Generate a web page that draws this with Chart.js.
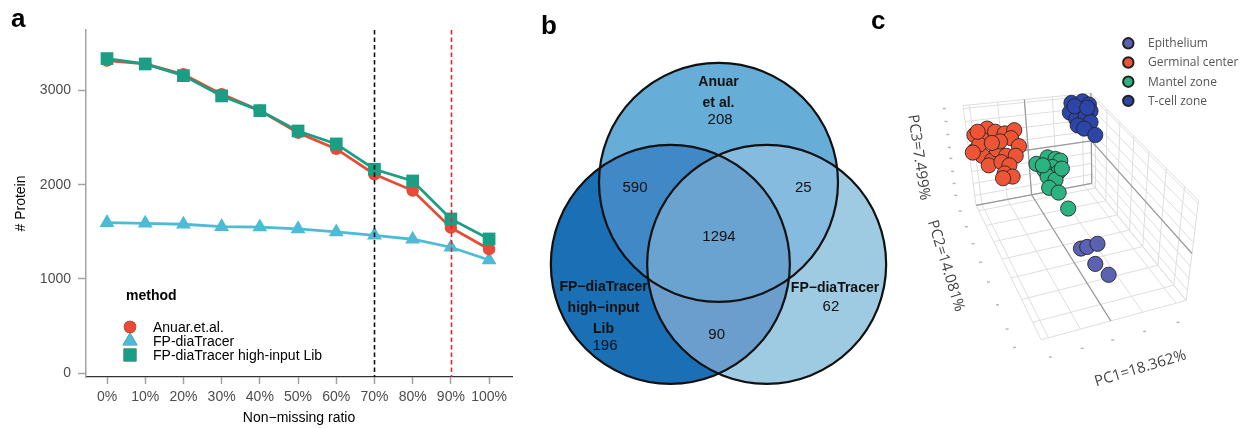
<!DOCTYPE html>
<html><head><meta charset="utf-8">
<script src="https://cdn.jsdelivr.net/npm/chart.js@4.4.1/dist/chart.umd.min.js"></script>
<style>
html,body{margin:0;padding:0;background:#fff;}
body{width:1252px;height:429px;overflow:hidden;position:relative;font-family:"Liberation Sans",Arial,sans-serif;}
.panel{position:absolute;top:0;}
.plab{position:absolute;font-weight:bold;font-size:26px;line-height:26px;color:#000;font-family:"Liberation Sans",Arial,sans-serif;}
canvas{display:block;}
</style></head><body>
<div class="panel" style="left:0;width:530px;height:429px"><canvas id="ca" width="530" height="429"></canvas></div>
<div class="panel" style="left:540px;width:360px;height:429px"><canvas id="cb" width="360" height="429"></canvas></div>
<div class="panel" style="left:880px;width:372px;height:429px"><canvas id="cc" width="372" height="429"></canvas></div>
<div class="plab" style="left:11px;top:5px">a</div>
<div class="plab" style="left:541px;top:12px">b</div>
<div class="plab" style="left:871px;top:7px">c</div>
<script>
// ---------------- Panel a data ----------------
const ratioLabels = ['0%','10%','20%','30%','40%','50%','60%','70%','80%','90%','100%'];
const methodNames = ['Anuar.et.al.','FP-diaTracer','FP-diaTracer high-input Lib'];
const anuarCounts = [3315,3280,3170,2960,2785,2551,2379,2110,1937,1544,1315];
const diaTracerCounts = [1597,1590,1580,1555,1550,1530,1498,1463,1421,1336,1201];
const highInputCounts = [3337,3280,3156,2941,2785,2569,2432,2163,2039,1636,1424];
const cutoffRatios = ['70%','90%'];
const yTickValues = [0,1000,2000,3000];

// ---------------- Panel b data ----------------
const vennSetNames = [['Anuar','et al.'], ['FP\u2212diaTracer','high\u2212input','Lib'], ['FP\u2212diaTracer']];
const vennOnlyCounts = [208, 196, 62];          // top, left, right
const vennPairCounts = [590, 25, 90];           // top&left, top&right, left&right
const vennAllCount = 1294;

// ---------------- Panel c data (projected PCA coordinates) ----------------
const pcaGroups = ['Epithelium','Germinal center','Mantel zone','T-cell zone'];
const pcaAxisTitles = ['PC1=18.362%','PC2=14.081%','PC3=7.499%'];
const epitheliumX = [201.7,208.3,219,216.7,230.7];
const epitheliumY = [250,248.3,245,266,277.3];
const germinalX = [103.3,90,98.3,111.7,121.7,131.7,128.3,136.7,90,98.3,108.3,113.3,123.3,133.3,105,118.3,126.7,121.7,130,120,95,116.7,108.3,93.3,88.3];
const germinalY = [125,131.7,136.7,128.3,130,126.7,135,143.3,148.3,153.3,158.3,146.7,153.3,153.3,163.3,160,163.3,171.7,175,176.7,141.7,138.3,140,128.3,150];
const mantelX = [155,166.7,175,180,171.7,163.3,178.3,166.7,175,168.3,178.3,188.3,161.7,181.7];
const mantelY = [161.7,155,156.7,158.3,165,168.3,170,175,178.3,186.7,191.7,208.3,163.3,166.7];
const tcellX = [191.7,203.3,210,190,200,211.7,196.7,206.7,211.7,198.3,205,216.7,195,208.3];
const tcellY = [98.3,96.7,100,108.3,106.7,106.7,115,111.7,118.3,121.7,125,131.7,101.7,103.3];

const FAM = '"Liberation Sans", Arial, sans-serif';
Chart.defaults.font.family = FAM;
Chart.defaults.animation = false;

// ================= Panel a =================
const methodColors = ['#E64B35','#4DBBD5','#1B9E84'];
const methodStyles = ['circle','triangle','rect'];
const methodRadius = [6.2, 8.6, 9];
const methodOrder = [1, 2, 0];
function mkSeries(k, vals){
  return {
    label: methodNames[k],
    data: vals.map((v,i)=>({x:i, y:v})),
    borderColor: methodColors[k], backgroundColor: methodColors[k],
    borderWidth: 2.8, pointStyle: methodStyles[k], pointRadius: methodRadius[k],
    pointHoverRadius: methodRadius[k], pointBorderWidth: 0, tension: 0, order: methodOrder[k]
  };
}
const cutoffColors = ['#111111','#E8242B'];
const cutoffPlugin = {
  id:'cutoffs',
  afterDatasetsDraw(chart){
    const {ctx, chartArea, scales:{x}} = chart;
    cutoffRatios.forEach((lab,k)=>{
      const px = Math.round(x.getPixelForValue(ratioLabels.indexOf(lab))) + 0.5;
      ctx.save(); ctx.setLineDash([4.5,3]); ctx.strokeStyle = cutoffColors[k]; ctx.lineWidth = 1.6;
      ctx.beginPath(); ctx.moveTo(px, chartArea.top); ctx.lineTo(px, chartArea.bottom); ctx.stroke(); ctx.restore();
    });
  }
};
const methodLegend = {
  id:'methodLegend',
  afterDraw(chart){
    const ctx = chart.ctx; ctx.save();
    ctx.textBaseline = 'middle'; ctx.fillStyle = '#000';
    ctx.font = 'bold 14px ' + FAM;
    ctx.fillText('method', 126, 296);
    ctx.font = '14px ' + FAM;
    methodNames.forEach((nm,k)=>{
      const yy = 327 + 14*k;
      const ds = chart.data.datasets[k];
      Chart.helpers.drawPoint(ctx, {pointStyle: ds.pointStyle, radius: ds.pointRadius, borderWidth: 0, rotation: 0}, 130, yy);
      ctx.fillStyle = ds.backgroundColor; ctx.fill();
      ctx.fillStyle = '#000';
      ctx.fillText(nm, 153, yy + 1);
    });
    ctx.restore();
  }
};
new Chart(document.getElementById('ca'), {
  type: 'line',
  data: { datasets: [mkSeries(0, anuarCounts), mkSeries(1, diaTracerCounts), mkSeries(2, highInputCounts)] },
  options: {
    responsive: false, animation: false,
    layout: { padding: { left: 0, top: 30, right: 18, bottom: 0 } },
    plugins: { legend: { display: false }, tooltip: { enabled: false } },
    scales: {
      x: {
        type: 'linear', min: -0.55, max: 10.6,
        afterFit(s){ s.height = 52; },
        afterBuildTicks(s){ s.ticks = ratioLabels.map((_,i)=>({value:i})); },
        ticks: { autoSkip: false, maxRotation: 0, minRotation: 0,
                 color: '#4d4d4d', font: { size: 14 }, padding: 5,
                 callback: v => (ratioLabels[v] !== undefined ? ratioLabels[v] : '') },
        grid: { drawOnChartArea: false, tickLength: 7, tickColor: '#a3a3a3', tickWidth: 1.5 },
        border: { color: '#333', width: 1.3 },
        title: { display: true, text: 'Non\u2212missing ratio', color: '#000', font: { size: 14 }, padding: { top: 0, bottom: 2 } }
      },
      y: {
        type: 'linear', min: -40, max: 3640,
        afterFit(s){ s.width = 86; },
        afterBuildTicks(s){ s.ticks = yTickValues.map(v=>({value:v})); },
        ticks: { color: '#4d4d4d', font: { size: 14 }, padding: 7, callback: v => String(v) },
        grid: { drawOnChartArea: false, tickLength: 8, tickColor: '#a3a3a3', tickWidth: 1.5 },
        border: { color: '#a3a3a3', width: 1.5 },
        title: { display: true, text: '# Protein', color: '#000', font: { size: 14 }, padding: { top: 13, bottom: 0 } }
      }
    }
  },
  plugins: [cutoffPlugin, methodLegend]
});

// ================= Panel b (Venn) =================
// layout in circle-radius units
const vennCircles = [ {cx: 0.0, cy: 0.686}, {cx: -0.403, cy: 0}, {cx: 0.403, cy: 0} ];
const vennOnlyColors = ['#66AED8','#1A6FB5','#9ECBE2'];
const vennPairIdx = [[0,1],[0,2],[1,2]];
const vennPairColors = ['#4189C6','#85BBDE','#6B9ECD'];
const vennAllColor = '#6AA2D0';
const vennNameAnchors = [ {x:0.0, y:1.523}, {x:-0.962, y:-0.19}, {x:0.975, y:-0.198} ];
const vennOnlyAnchors = [ {x:0.013, y:1.205}, {x:-0.95, y:-0.683}, {x:0.941, y:-0.355} ];
const vennPairAnchors = [ {x:-0.699, y:0.641}, {x:0.71, y:0.641}, {x:-0.015, y:-0.592} ];
const vennAllAnchor = {x:0.004, y:0.226};
const vennPlugin = {
  id:'venn',
  afterDraw(chart){
    const {ctx, scales:{x, y}} = chart;
    const C = vennCircles.map(c=>({px: x.getPixelForValue(c.cx), py: y.getPixelForValue(c.cy),
      pr: x.getPixelForValue(c.cx + 1) - x.getPixelForValue(c.cx)}));
    const path = c => { ctx.beginPath(); ctx.arc(c.px, c.py, c.pr, 0, Math.PI*2); };
    C.forEach((c,i)=>{ ctx.save(); path(c); ctx.fillStyle = vennOnlyColors[i]; ctx.fill(); ctx.restore(); });
    vennPairIdx.forEach((p,k)=>{ ctx.save(); path(C[p[0]]); ctx.clip(); path(C[p[1]]); ctx.clip();
      ctx.fillStyle = vennPairColors[k]; ctx.fillRect(0,0,chart.width,chart.height); ctx.restore(); });
    ctx.save(); C.forEach(c=>{ path(c); ctx.clip(); }); ctx.fillStyle = vennAllColor; ctx.fillRect(0,0,chart.width,chart.height); ctx.restore();
    ctx.save(); ctx.strokeStyle = '#111'; ctx.lineWidth = 2.2; C.forEach(c=>{ path(c); ctx.stroke(); }); ctx.restore();
    ctx.save(); ctx.textAlign = 'center'; ctx.textBaseline = 'middle'; ctx.fillStyle = '#111';
    const nameGap = 21;
    ctx.font = 'bold 14px ' + FAM;
    vennSetNames.forEach((lines,i)=>{
      const ax = x.getPixelForValue(vennNameAnchors[i].x), ay = y.getPixelForValue(vennNameAnchors[i].y);
      lines.forEach((ln,j)=> ctx.fillText(ln, ax, ay + j*nameGap));
    });
    ctx.font = '15px ' + FAM;
    vennOnlyCounts.forEach((n,i)=> ctx.fillText(String(n), x.getPixelForValue(vennOnlyAnchors[i].x), y.getPixelForValue(vennOnlyAnchors[i].y)));
    vennPairCounts.forEach((n,i)=> ctx.fillText(String(n), x.getPixelForValue(vennPairAnchors[i].x), y.getPixelForValue(vennPairAnchors[i].y)));
    ctx.fillText(String(vennAllCount), x.getPixelForValue(vennAllAnchor.x), y.getPixelForValue(vennAllAnchor.y));
    ctx.restore();
  }
};
new Chart(document.getElementById('cb'), {
  type: 'scatter',
  data: { datasets: [{ data: [] }] },
  options: {
    responsive: false, animation: false, layout: { padding: 0 },
    plugins: { legend: { display: false }, tooltip: { enabled: false } },
    scales: {
      x: { type: 'linear', min: -178.5/119.5, max: 181.5/119.5, display: false },
      y: { type: 'linear', min: -164.7/119.5, max: 264.3/119.5, display: false }
    }
  },
  plugins: [vennPlugin]
});

// ================= Panel c (3D PCA, projected) =================
const groupColors = ['#5B62B2','#EE5536','#2DB381','#2C45A8'];
const faceBack  = [[91.7,205],[213,182],[212,88],[78,101]];   // (u,w): 00,10,11,01
const faceFloor = [[91.7,205],[213,182],[312,304],[160,345]]; // (u,v)
const faceRight = [[213,182],[312,304],[325,200],[212,88]];   // (v,w)
const uGrid = [0.05,0.27,0.48,0.70,0.93], uZero = 0.48;
const vGrid = [0.04,0.15,0.27,0.40,0.54,0.70,0.87], vZero = 0.0;
const wGrid = [0.10,0.22,0.34,0.47,0.58,0.71,0.84,0.97], wZero = 0.47;
function bil(f, s, t){
  const a=f[0], b=f[1], c=f[2], d=f[3];
  return [ (1-s)*(1-t)*a[0] + s*(1-t)*b[0] + s*t*c[0] + (1-s)*t*d[0],
           (1-s)*(1-t)*a[1] + s*(1-t)*b[1] + s*t*c[1] + (1-s)*t*d[1] ];
}
const wirePlugin = {
  id:'wire',
  beforeDatasetsDraw(chart){
    const {ctx, scales:{x, y}} = chart;
    const P = p => [x.getPixelForValue(p[0]), y.getPixelForValue(p[1])];
    const seg = (p, q, col, lw) => { const a=P(p), b=P(q); ctx.strokeStyle=col; ctx.lineWidth=lw; ctx.beginPath(); ctx.moveTo(a[0],a[1]); ctx.lineTo(b[0],b[1]); ctx.stroke(); };
    const light = '#dedede', dark = '#9a9a9a';
    ctx.save();
    const drawFace = (f, sGrid, tGrid) => {
      sGrid.forEach(s=> seg(bil(f,s,0), bil(f,s,1), light, 1));
      tGrid.forEach(t=> seg(bil(f,0,t), bil(f,1,t), light, 1));
    };
    drawFace(faceBack, uGrid, wGrid);
    drawFace(faceFloor, uGrid, vGrid);
    drawFace(faceRight, vGrid, wGrid);
    [faceBack, faceFloor, faceRight].forEach(f=>{ for(let i=0;i<4;i++) seg(f[i], f[(i+1)%4], light, 1); });
    seg(bil(faceBack,uZero,0), bil(faceBack,uZero,1), dark, 1.2);
    seg(bil(faceFloor,uZero,0), bil(faceFloor,uZero,1), dark, 1.2);
    seg(bil(faceBack,0,wZero), bil(faceBack,1,wZero), dark, 1.2);
    seg(bil(faceRight,0,wZero), bil(faceRight,1,wZero), dark, 1.2);
    seg(bil(faceFloor,0,vZero), bil(faceFloor,1,vZero), dark, 1.2);
    seg(bil(faceRight,vZero,0), bil(faceRight,vZero,1), dark, 1.2);
    ctx.fillStyle = '#b5b5b5';
    const dot = p => { const a=P(p); ctx.fillRect(a[0]-1.5, a[1]-0.7, 3, 1.4); };
    wGrid.forEach(t=>{ const p=bil(faceBack,0,t); dot([p[0]-20, p[1]]); });
    vGrid.concat([1]).forEach(t=>{ const p=bil(faceFloor,0,t); dot([p[0]-19-9*t, p[1]+8*t]); });
    uGrid.forEach(s=>{ const p=bil(faceFloor,s,1); dot([p[0]+2, p[1]+20]); });
    ctx.restore();
  },
  afterDraw(chart){
    const {ctx, scales:{x, y}} = chart;
    ctx.save();
    ctx.fillStyle = '#444'; ctx.font = '15px "Open Sans", sans-serif';
    ctx.textAlign = 'center'; ctx.textBaseline = 'middle';
    const rot = (txt, px, py, deg) => { ctx.save(); ctx.translate(x.getPixelForValue(px), y.getPixelForValue(py)); ctx.rotate(deg*Math.PI/180); ctx.fillText(txt,0,0); ctx.restore(); };
    rot(pcaAxisTitles[2], 31.5, 155, 81.8);
    rot(pcaAxisTitles[1], 60, 268, 72.8);
    rot(pcaAxisTitles[0], 264, 375, -17);
    ctx.textAlign = 'left'; ctx.font = '12px "Open Sans", sans-serif';
    pcaGroups.forEach((g,k)=>{
      const yy = 43.3 + 19.2*k;
      ctx.beginPath(); ctx.arc(248.3, yy, 5.2, 0, Math.PI*2);
      ctx.fillStyle = groupColors[k]; ctx.fill(); ctx.lineWidth = 2; ctx.strokeStyle = '#222'; ctx.stroke();
      ctx.fillStyle = '#555'; ctx.fillText(g, 268, yy + 0.5);
    });
    ctx.restore();
  }
};
function mkGroup(k, xs, ys, ord){
  return { label: pcaGroups[k], data: xs.map((v,i)=>({x:v, y:ys[i]})), pointRadius: 7.6, pointHoverRadius: 7.6,
    backgroundColor: groupColors[k], pointBorderColor: 'rgba(35,35,35,0.85)', pointBorderWidth: 1, order: ord };
}
new Chart(document.getElementById('cc'), {
  type: 'scatter',
  data: { datasets: [ mkGroup(0, epitheliumX, epitheliumY, 3), mkGroup(1, germinalX, germinalY, 0),
                      mkGroup(2, mantelX, mantelY, 1), mkGroup(3, tcellX, tcellY, 2) ] },
  options: {
    responsive: false, animation: false, layout: { padding: 0 },
    plugins: { legend: { display: false }, tooltip: { enabled: false } },
    scales: {
      x: { type: 'linear', min: 0, max: 372, display: false },
      y: { type: 'linear', min: 0, max: 429, reverse: true, display: false }
    }
  },
  plugins: [wirePlugin]
});
</script>
</body></html>
